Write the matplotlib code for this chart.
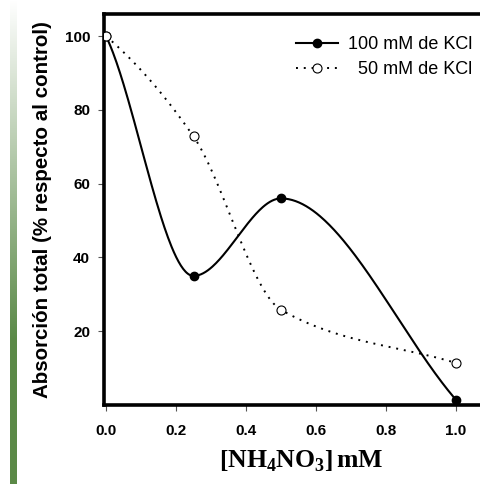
import numpy as np
import matplotlib
matplotlib.use("Agg")
import matplotlib.pyplot as plt
from matplotlib.lines import Line2D

# NH4NO3 concentration (mM) and total uptake (% of control)
nh4no3 = [0.0, 0.25, 0.5, 1.0]
kcl_100 = [100.0, 35.0, 56.0, 1.4]
kcl_50 = [100.0, 72.8, 25.8, 11.4]

x_ticks = [0.0, 0.2, 0.4, 0.6, 0.8, 1.0]
y_ticks = [20, 40, 60, 80, 100]


def smooth_curve(x, y, xs):
    # shape-preserving Hermite cubic, end slopes taken from the end chords
    x = np.asarray(x, float)
    y = np.asarray(y, float)
    h = np.diff(x)
    delta = np.diff(y) / h
    n = len(x)
    d = np.zeros(n)
    for k in range(1, n - 1):
        if delta[k - 1] * delta[k] > 0:
            w1 = 2 * h[k] + h[k - 1]
            w2 = h[k] + 2 * h[k - 1]
            d[k] = (w1 + w2) / (w1 / delta[k - 1] + w2 / delta[k])
    d[0] = delta[0] * 0.75
    d[-1] = delta[-1]

    out = np.empty_like(xs)
    for j, t in enumerate(xs):
        i = int(np.clip(np.searchsorted(x, t, side="right") - 1, 0, n - 2))
        s = (t - x[i]) / h[i]
        h00 = 2 * s**3 - 3 * s**2 + 1
        h10 = s**3 - 2 * s**2 + s
        h01 = -2 * s**3 + 3 * s**2
        h11 = s**3 - s**2
        out[j] = h00 * y[i] + h10 * h[i] * d[i] + h01 * y[i + 1] \
            + h11 * h[i] * d[i + 1]
    return out


W, H = 481, 484
fig = plt.figure(figsize=(W / 100, H / 100), dpi=100)

# green strip on the left edge
strip = fig.add_axes([10 / W, 0, 7 / W, 1])
grad = np.clip(np.linspace(0, 1, 484) / 0.7, 0, 1)
green = np.array([0.357, 0.541, 0.282])
img = (1 - grad)[:, None, None] * np.ones(3) + grad[:, None, None] * green
strip.imshow(img, aspect="auto", extent=[0, 1, 1, 0])
strip.axis("off")

ax = fig.add_axes([104 / W, 1 - 405 / H, (500 - 104) / W, (405 - 14) / H])
ax.set_xlim(-2 / 350, (500 - 106) / 350)
ax.set_ylim(0, 106)

xs = np.linspace(0, 1, 300)
ax.plot(xs, smooth_curve(nh4no3, kcl_100, xs), color="black", lw=1.5,
        zorder=3)
ax.plot(nh4no3, kcl_100, "o", color="black", ms=6, zorder=4)
ax.plot(xs, smooth_curve(nh4no3, kcl_50, xs), color="black", lw=1.4,
        linestyle=(0, (1, 3)), zorder=3)
ax.plot(nh4no3, kcl_50, "o", mfc="white", mec="black", mew=0.8, ms=6.5,
        zorder=5)

for side in ["left", "bottom", "top"]:
    ax.spines[side].set_linewidth(2.6)
ax.spines["right"].set_visible(False)

ax.set_xticks(x_ticks)
ax.set_xticklabels([f"{v:.1f}" for v in x_ticks])
ax.set_yticks(y_ticks)
ax.set_yticklabels([str(v) for v in y_ticks])
ax.tick_params(direction="out", length=4, width=0.8, color="#555555",
               labelsize=11, pad=6)
ax.tick_params(axis="x", pad=10)
for lbl in ax.get_xticklabels() + ax.get_yticklabels():
    lbl.set_fontfamily("Liberation Sans")
    lbl.set_fontweight("bold")

ax.set_ylabel("Absorción total (% respecto al control)",
              fontfamily="Liberation Sans", fontweight="bold", fontsize=14.8,
              labelpad=9)

plt.rcParams["mathtext.fontset"] = "custom"
plt.rcParams["mathtext.rm"] = "Liberation Serif:bold"
plt.rcParams["mathtext.it"] = "Liberation Serif:bold"
plt.rcParams["mathtext.bf"] = "Liberation Serif:bold"
fig.text(301 / W, 1 - 460 / H,
         r"$\left[\mathrm{NH_4NO_3}\right]\,\mathrm{mM}$",
         fontsize=18.5, ha="center", va="center")

handles = [
    Line2D([], [], color="black", lw=1.5, marker="o", ms=6),
    Line2D([], [], color="black", lw=1.4, linestyle=(0, (1, 3)), marker="o",
           mfc="white", mec="black", mew=0.8, ms=6.5),
]
leg = fig.legend(handles, ["100 mM de KCl", "  50 mM de KCl"],
                 loc="upper right", bbox_to_anchor=(472 / W, 1 - 36 / H),
                 bbox_transform=fig.transFigure, frameon=False, borderpad=0,
                 borderaxespad=0, handlelength=2.3, handletextpad=0.55,
                 labelspacing=0.45,
                 prop={"family": "Liberation Sans", "size": 13})

fig.savefig("out.png", dpi=100)
